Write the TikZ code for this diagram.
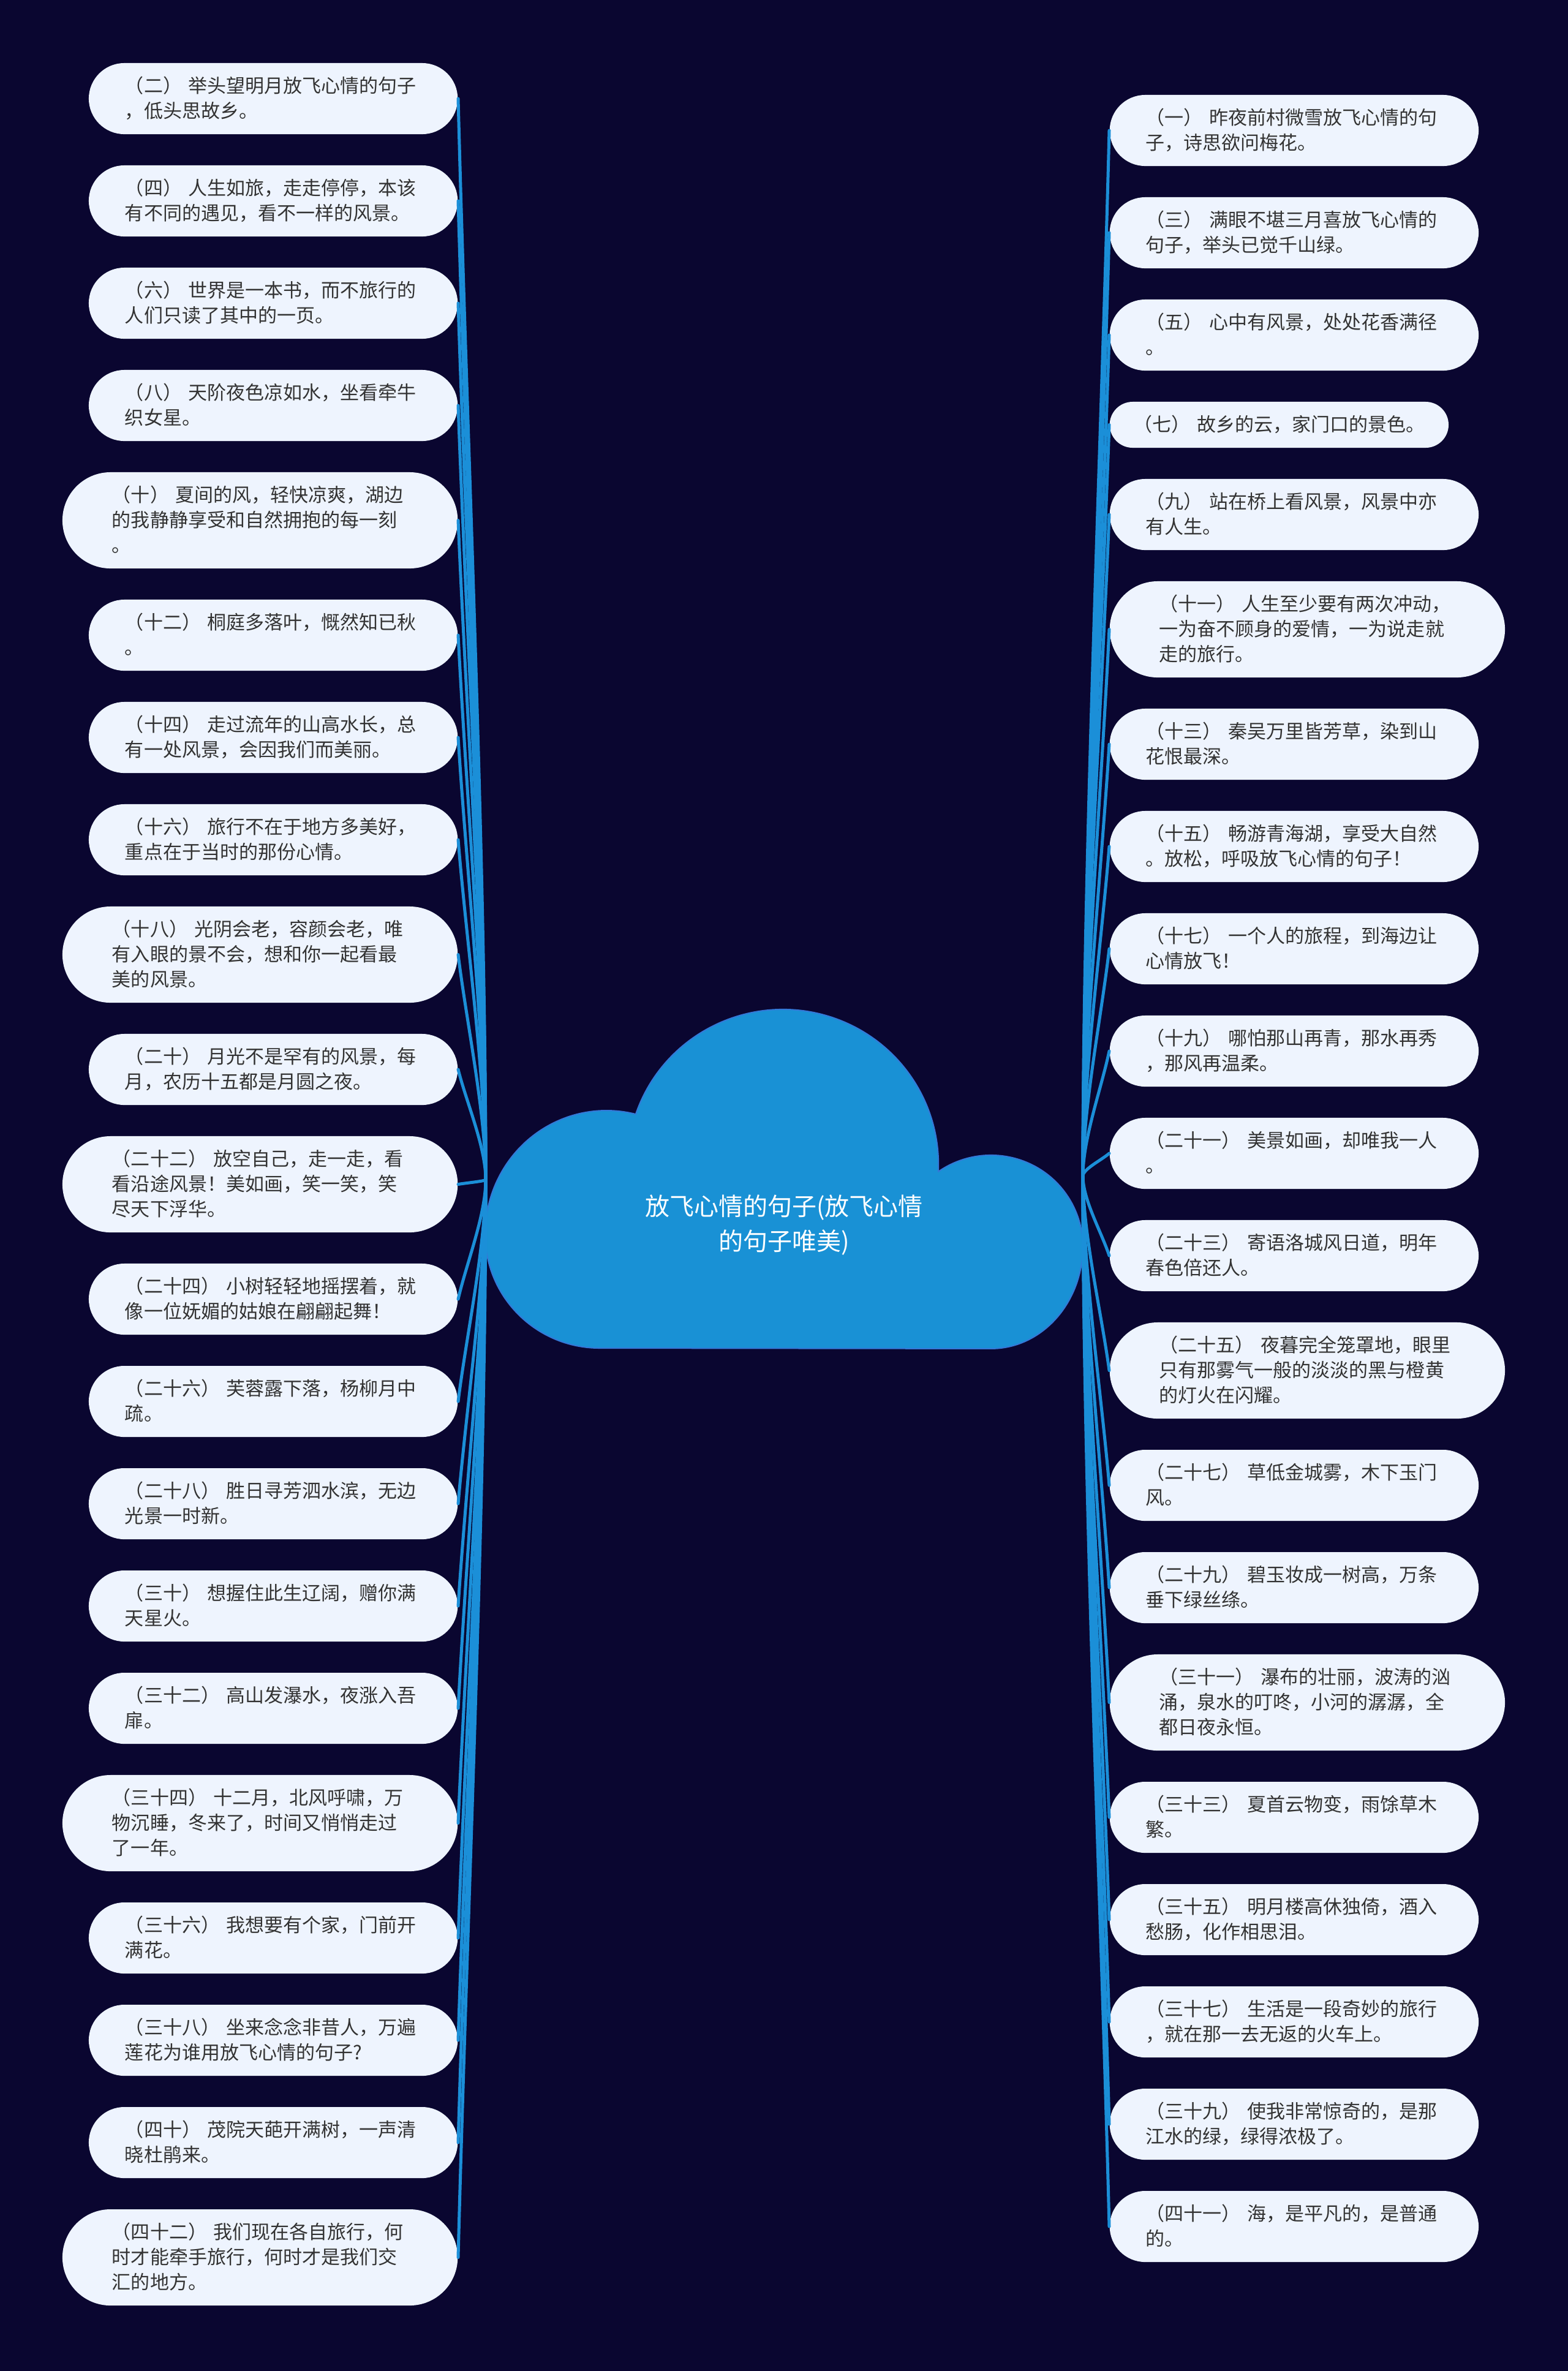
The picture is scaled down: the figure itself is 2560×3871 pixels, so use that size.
\documentclass[tikz,border=0pt]{standalone}
\usepackage{fontspec}
\newfontfamily\cjk{Noto Sans CJK SC}
\usetikzlibrary{calc}

\definecolor{bgnavy}{RGB}{10,6,48}
\definecolor{leafbg}{RGB}{238,244,254}
\definecolor{leaftext}{RGB}{51,51,51}
\definecolor{cloudblue}{RGB}{25,145,213}
\definecolor{cloudedge}{RGB}{52,120,216}
\definecolor{linkblue}{RGB}{27,143,216}

\newcommand\leaffont{\cjk\fontsize{8.82pt}{11.67pt}\selectfont}
\newcommand\rootfont{\cjk\fontsize{11.38pt}{16.2pt}\selectfont}

\tikzset{
    leaf/.style={fill=leafbg, text=leaftext, font=\leaffont, align=left, inner ysep=0pt,
        execute at begin node={\rule[-0.14em]{0pt}{1em}},
        execute at end node={\rule[-0.14em]{0pt}{1em}}},
    oneline/.style={leaf, text width=4.75cm, inner xsep=0.39cm, minimum height=0.75cm, rounded corners=0.375cm},
    twoline/.style={leaf, text width=4.84cm, inner xsep=0.59cm, minimum height=1.16cm, rounded corners=0.58cm},
    threeline/.style={leaf, text width=4.83cm, inner xsep=0.81cm, minimum height=1.57cm, rounded corners=0.785cm},
    rootlabel/.style={text=white, font=\rootfont, align=center, inner sep=0pt},
    link/.style={draw=linkblue, line width=0.05cm}
}

\begin{document}
\begin{tikzpicture}[x=0.01cm, y=-0.01cm, line join=round, line cap=round]
    % 背景
    \fill[bgnavy] (0,0) rectangle (2560,3871);
    \useasboundingbox (0,0) rectangle (2560,3871);

    % 中心云朵 (三个椭圆弧拼成)
    \filldraw[fill=cloudblue, draw=cloudedge, line width=0.02cm]
        (979,2201) arc[start angle=90, end angle=180, x radius=187, y radius=186]
        arc[start angle=180, end angle=284, x radius=198, y radius=202]
        arc[start angle=198.9, end angle=362.7, x radius=254, y radius=253]
        arc[start angle=235, end angle=360, x radius=150, y radius=149]
        arc[start angle=0, end angle=90, x radius=150, y radius=167]
        -- cycle;
    \node[rootlabel] (root) at (1280,2000) {放飞心情的句子(放飞心情\\的句子唯美)};

    % 左右两束连线的汇合点
    \coordinate (hubL) at (793,1926);
    \coordinate (hubR) at (1768,1920);

    % 左侧分支 (偶数)
    \node[twoline, anchor=east] (l2) at (748,161) {（二）~举头望明月放飞心情的句子\\，低头思故乡。};
    \node[twoline, anchor=east] (l4) at (748,328) {（四）~人生如旅，走走停停，本该\\有不同的遇见，看不一样的风景。};
    \node[twoline, anchor=east] (l6) at (748,495) {（六）~世界是一本书，而不旅行的\\人们只读了其中的一页。};
    \node[twoline, anchor=east] (l8) at (748,662) {（八）~天阶夜色凉如水，坐看牵牛\\织女星。};
    \node[threeline, anchor=east] (l10) at (748,849.5) {（十）~夏间的风，轻快凉爽，湖边\\的我静静享受和自然拥抱的每一刻\\。};
    \node[twoline, anchor=east] (l12) at (748,1037) {（十二）~桐庭多落叶，慨然知已秋\\。};
    \node[twoline, anchor=east] (l14) at (748,1204) {（十四）~走过流年的山高水长，总\\有一处风景，会因我们而美丽。};
    \node[twoline, anchor=east] (l16) at (748,1371) {（十六）~旅行不在于地方多美好，\\重点在于当时的那份心情。};
    \node[threeline, anchor=east] (l18) at (748,1558.5) {（十八）~光阴会老，容颜会老，唯\\有入眼的景不会，想和你一起看最\\美的风景。};
    \node[twoline, anchor=east] (l20) at (748,1746) {（二十）~月光不是罕有的风景，每\\月，农历十五都是月圆之夜。};
    \node[threeline, anchor=east] (l22) at (748,1933.5) {（二十二）~放空自己，走一走，看\\看沿途风景！美如画，笑一笑，笑\\尽天下浮华。};
    \node[twoline, anchor=east] (l24) at (748,2121) {（二十四）~小树轻轻地摇摆着，就\\像一位妩媚的姑娘在翩翩起舞！};
    \node[twoline, anchor=east] (l26) at (748,2288) {（二十六）~芙蓉露下落，杨柳月中\\疏。};
    \node[twoline, anchor=east] (l28) at (748,2455) {（二十八）~胜日寻芳泗水滨，无边\\光景一时新。};
    \node[twoline, anchor=east] (l30) at (748,2622) {（三十）~想握住此生辽阔，赠你满\\天星火。};
    \node[twoline, anchor=east] (l32) at (748,2789) {（三十二）~高山发瀑水，夜涨入吾\\扉。};
    \node[threeline, anchor=east] (l34) at (748,2976.5) {（三十四）~十二月，北风呼啸，万\\物沉睡，冬来了，时间又悄悄走过\\了一年。};
    \node[twoline, anchor=east] (l36) at (748,3164) {（三十六）~我想要有个家，门前开\\满花。};
    \node[twoline, anchor=east] (l38) at (748,3331) {（三十八）~坐来念念非昔人，万遍\\莲花为谁用放飞心情的句子?};
    \node[twoline, anchor=east] (l40) at (748,3498) {（四十）~茂院天葩开满树，一声清\\晓杜鹃来。};
    \node[threeline, anchor=east] (l42) at (748,3685.5) {（四十二）~我们现在各自旅行，何\\时才能牵手旅行，何时才是我们交\\汇的地方。};

    % 右侧分支 (奇数)
    \node[twoline, anchor=west] (r1) at (1811,213) {（一）~昨夜前村微雪放飞心情的句\\子，诗思欲问梅花。};
    \node[twoline, anchor=west] (r3) at (1811,380) {（三）~满眼不堪三月喜放飞心情的\\句子，举头已觉千山绿。};
    \node[twoline, anchor=west] (r5) at (1811,547) {（五）~心中有风景，处处花香满径\\。};
    \node[oneline, anchor=west] (r7) at (1811,693.5) {（七）~故乡的云，家门口的景色。};
    \node[twoline, anchor=west] (r9) at (1811,840) {（九）~站在桥上看风景，风景中亦\\有人生。};
    \node[threeline, anchor=west] (r11) at (1811,1027.5) {（十一）~人生至少要有两次冲动，\\一为奋不顾身的爱情，一为说走就\\走的旅行。};
    \node[twoline, anchor=west] (r13) at (1811,1215) {（十三）~秦吴万里皆芳草，染到山\\花恨最深。};
    \node[twoline, anchor=west] (r15) at (1811,1382) {（十五）~畅游青海湖，享受大自然\\。放松，呼吸放飞心情的句子！};
    \node[twoline, anchor=west] (r17) at (1811,1549) {（十七）~一个人的旅程，到海边让\\心情放飞！};
    \node[twoline, anchor=west] (r19) at (1811,1716) {（十九）~哪怕那山再青，那水再秀\\，那风再温柔。};
    \node[twoline, anchor=west] (r21) at (1811,1883) {（二十一）~美景如画，却唯我一人\\。};
    \node[twoline, anchor=west] (r23) at (1811,2050) {（二十三）~寄语洛城风日道，明年\\春色倍还人。};
    \node[threeline, anchor=west] (r25) at (1811,2237.5) {（二十五）~夜暮完全笼罩地，眼里\\只有那雾气一般的淡淡的黑与橙黄\\的灯火在闪耀。};
    \node[twoline, anchor=west] (r27) at (1811,2425) {（二十七）~草低金城雾，木下玉门\\风。};
    \node[twoline, anchor=west] (r29) at (1811,2592) {（二十九）~碧玉妆成一树高，万条\\垂下绿丝绦。};
    \node[threeline, anchor=west] (r31) at (1811,2779.5) {（三十一）~瀑布的壮丽，波涛的汹\\涌，泉水的叮咚，小河的潺潺，全\\都日夜永恒。};
    \node[twoline, anchor=west] (r33) at (1811,2967) {（三十三）~夏首云物变，雨馀草木\\繁。};
    \node[twoline, anchor=west] (r35) at (1811,3134) {（三十五）~明月楼高休独倚，酒入\\愁肠，化作相思泪。};
    \node[twoline, anchor=west] (r37) at (1811,3301) {（三十七）~生活是一段奇妙的旅行\\，就在那一去无返的火车上。};
    \node[twoline, anchor=west] (r39) at (1811,3468) {（三十九）~使我非常惊奇的，是那\\江水的绿，绿得浓极了。};
    \node[twoline, anchor=west] (r41) at (1811,3635) {（四十一）~海，是平凡的，是普通\\的。};

    % 连线: 从汇合点弯向各分支
    \foreach \n in {2,4,...,42}
        \draw[link] (hubL) .. controls ($(hubL)!0.3!(hubL |- l\n.east)$) and ($(l\n.east)!0.3!(hubL)$) .. (l\n.east);
    \foreach \n in {1,3,...,41}
        \draw[link] (hubR) .. controls ($(hubR)!0.3!(hubR |- r\n.west)$) and ($(r\n.west)!0.3!(hubR)$) .. (r\n.west);
\end{tikzpicture}
\end{document}
